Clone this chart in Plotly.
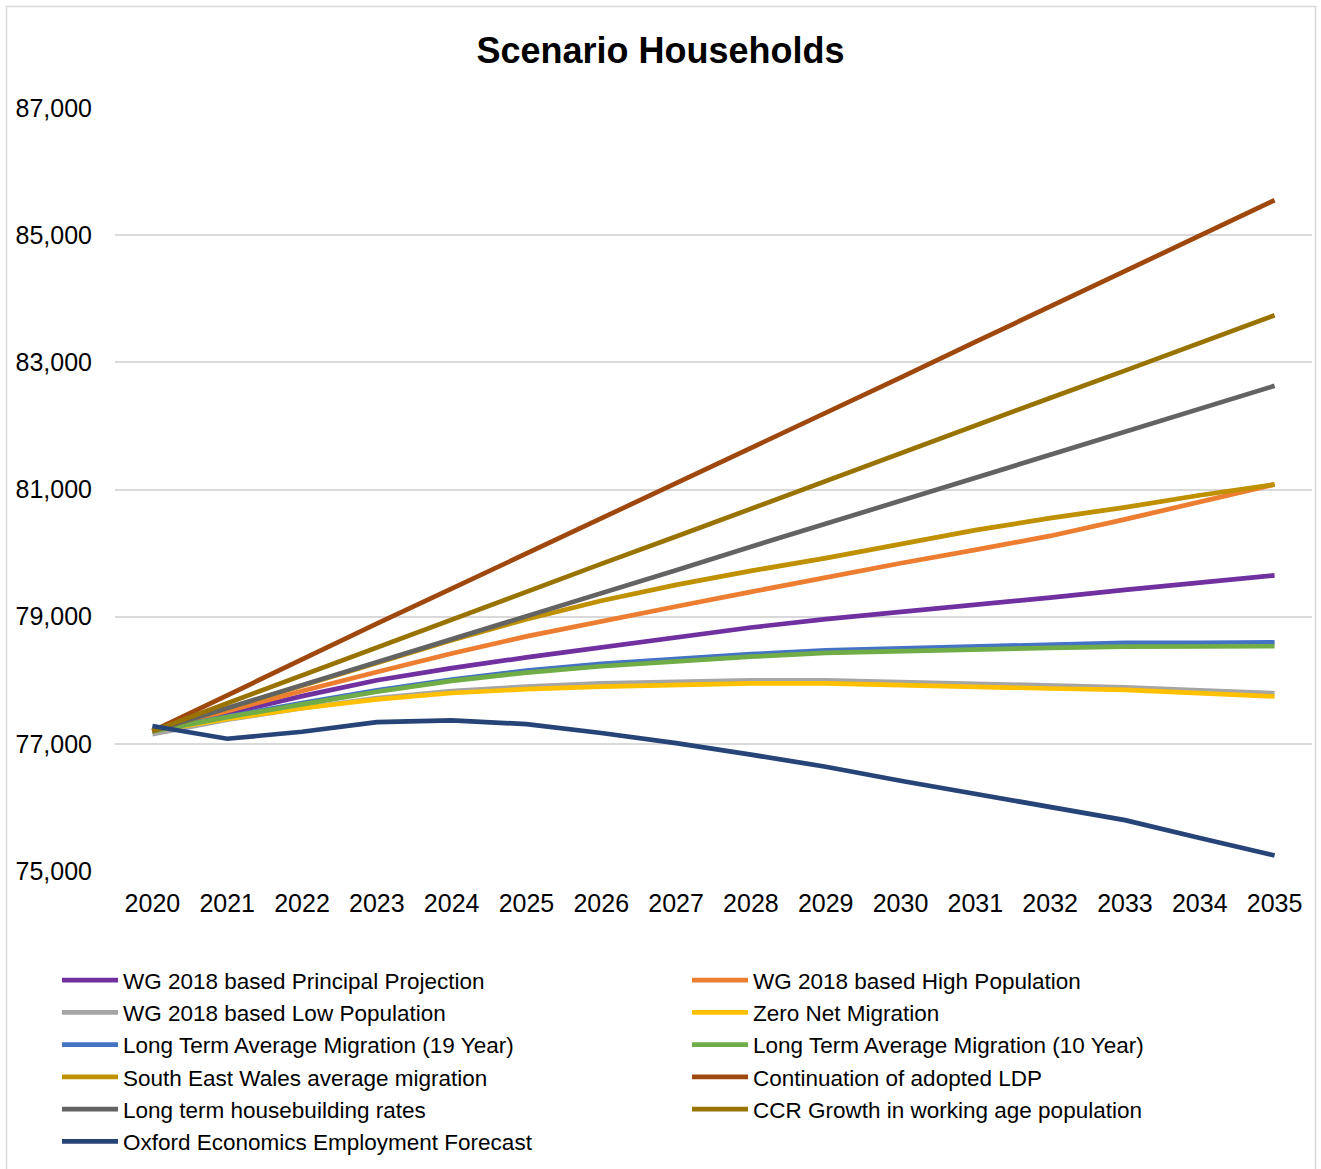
import plotly.graph_objects as go

years = list(range(2020, 2036))

series_names = [
    "WG 2018 based Principal Projection",
    "WG 2018 based High Population",
    "WG 2018 based Low Population",
    "Zero Net Migration",
    "Long Term Average Migration (19 Year)",
    "Long Term Average Migration (10 Year)",
    "South East Wales average migration",
    "Continuation of adopted LDP",
    "Long term housebuilding rates",
    "CCR Growth in working age population",
    "Oxford Economics Employment Forecast",
]

principal = [77200, 77480, 77750, 78000, 78190, 78360, 78520, 78680, 78830, 78960, 79070, 79180, 79300, 79420, 79530, 79650]
high_pop = [77200, 77520, 77830, 78130, 78420, 78690, 78930, 79160, 79390, 79620, 79840, 80050, 80270, 80530, 80800, 81080]
low_pop = [77150, 77380, 77560, 77720, 77830, 77900, 77950, 77980, 78000, 78000, 77970, 77950, 77920, 77890, 77840, 77795]
zero_net = [77200, 77390, 77560, 77700, 77800, 77860, 77900, 77930, 77950, 77950, 77920, 77890, 77870, 77850, 77790, 77745]
lta_19 = [77200, 77430, 77640, 77840, 78010, 78150, 78260, 78340, 78410, 78470, 78500, 78530, 78560, 78590, 78590, 78595]
lta_10 = [77200, 77420, 77620, 77820, 77990, 78120, 78220, 78300, 78370, 78430, 78460, 78480, 78510, 78530, 78530, 78535]
se_wales = [77200, 77560, 77920, 78280, 78630, 78960, 79250, 79500, 79720, 79920, 80140, 80360, 80550, 80720, 80910, 81080]
continuation_ldp = [77200, 77770, 78330, 78890, 79440, 79990, 80540, 81090, 81640, 82200, 82760, 83320, 83880, 84440, 85000, 85550]
housebuilding = [77200, 77560, 77920, 78290, 78650, 79010, 79370, 79730, 80100, 80460, 80820, 81180, 81550, 81910, 82270, 82630]
ccr_growth = [77200, 77640, 78080, 78520, 78960, 79390, 79830, 80260, 80700, 81130, 81570, 82000, 82440, 82870, 83310, 83740]
oxford = [77280, 77080, 77190, 77340, 77370, 77310, 77170, 77010, 76830, 76640, 76420, 76210, 76010, 75800, 75520, 75245]

series_values = [principal, high_pop, low_pop, zero_net, lta_19, lta_10,
                 se_wales, continuation_ldp, housebuilding, ccr_growth, oxford]
series_colors = ["#7030A0", "#ED7D31", "#A5A5A5", "#FFC000", "#4472C4", "#70AD47",
                 "#BF9000", "#9E480E", "#636363", "#997300", "#264478"]

y_ticks = [75000, 77000, 79000, 81000, 83000, 85000, 87000]

FONT = "Liberation Sans, Arial, sans-serif"

fig = go.Figure()
for name, vals, col in zip(series_names, series_values, series_colors):
    fig.add_trace(go.Scatter(
        x=years, y=vals, name=name, mode="lines",
        line=dict(color=col, width=4.7),
    ))

W, H = 1321, 1169
L, R, T, B = 115, 9, 108, 298
pw, ph = W - L - R, H - T - B

def px_x(p):
    return (p - L) / pw

def px_y(p):
    return (H - B - p) / ph

fig.update_layout(
    width=W, height=H,
    margin=dict(l=L, r=R, t=T, b=B, autoexpand=False),
    paper_bgcolor="white", plot_bgcolor="white",
    font=dict(family=FONT, color="#000000", size=24),
    title=dict(text="<b>Scenario Households</b>", x=0.5, xanchor="center",
               y=1 - 50 / H, yanchor="middle", yref="container",
               font=dict(size=36, family=FONT, color="#000000")),
    xaxis=dict(range=[2019.5, 2035.5], tickmode="array", tickvals=years,
               ticktext=[str(y) for y in years], showgrid=False, zeroline=False,
               showline=False, ticks="", tickfont=dict(size=25),
               ticklabelstandoff=15, fixedrange=True),
    yaxis=dict(range=[75000, 87000], tickmode="array", tickvals=y_ticks,
               tickformat=",d", showgrid=True, gridcolor="#D9D9D9", gridwidth=1.5,
               zeroline=False, showline=False, ticks="", tickfont=dict(size=25),
               ticklabelstandoff=22, fixedrange=True),
    legend=dict(orientation="h", x=px_x(57), xanchor="left",
                y=px_y(959), yanchor="top", font=dict(size=22.5, family=FONT),
                itemwidth=56, entrywidth=559, entrywidthmode="pixels",
                traceorder="normal", bgcolor="rgba(0,0,0,0)", tracegroupgap=0),
    showlegend=True,
    shapes=[dict(type="rect", xref="paper", yref="paper",
                 x0=px_x(6.5), x1=px_x(1315.5), y0=px_y(1175), y1=px_y(6.5),
                 line=dict(color="#D9D9D9", width=1.5), fillcolor="rgba(0,0,0,0)",
                 layer="below")],
)

fig.write_html("out.html")
